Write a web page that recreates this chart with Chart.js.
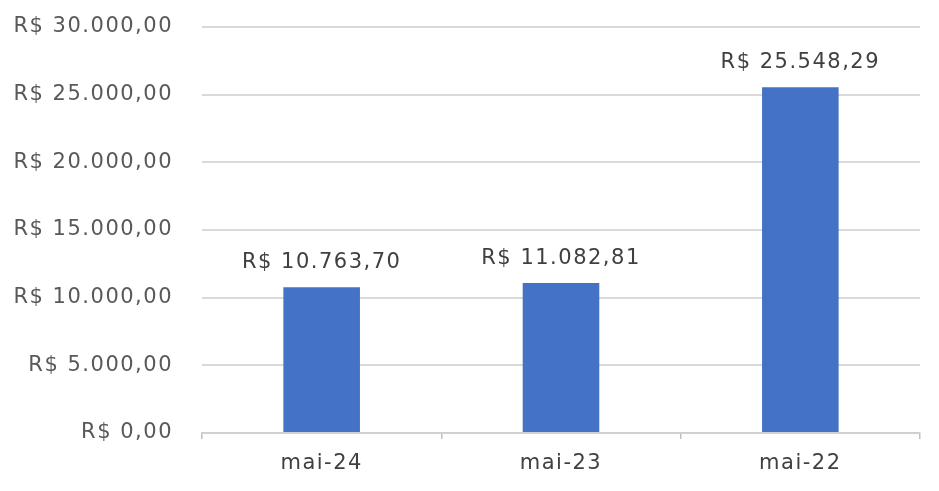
<!DOCTYPE html>
<html>
<head>
<meta charset="utf-8">
<script src="https://cdn.jsdelivr.net/npm/chart.js@4.4.1/dist/chart.umd.min.js"></script>
<style>
  html, body { margin: 0; padding: 0; background: #ffffff; }
  #wrap { width: 939px; height: 491px; }
</style>
</head>
<body>
<div id="wrap"><canvas id="barChart"></canvas></div>
<script>
const categories = ["mai-24", "mai-23", "mai-22"];
const values = [10763.70, 11082.81, 25548.29];
const yMin = 0;
const yMax = 30000;
const yStep = 5000;

function formatBRL(value) {
    return 'R$ ' + value.toLocaleString('pt-BR', { minimumFractionDigits: 2, maximumFractionDigits: 2 });
}

// espaçamento entre letras parecido com o original
const spacing = {
    id: 'spacing',
    beforeUpdate(chart) { chart.ctx.letterSpacing = '1.5px'; },
    beforeDraw(chart) { chart.ctx.letterSpacing = '1.5px'; }
};

// desenha os valores em cima das barras
const valueLabels = {
    id: 'valueLabels',
    afterDatasetsDraw(chart) {
        const ctx = chart.ctx;
        const meta = chart.getDatasetMeta(0);
        ctx.save();
        ctx.font = '21px "DejaVu Sans"';
        ctx.letterSpacing = '1.5px';
        ctx.fillStyle = '#404040';
        ctx.textAlign = 'center';
        ctx.textBaseline = 'bottom';
        meta.data.forEach((bar, i) => {
            ctx.fillText(formatBRL(chart.data.datasets[0].data[i]), bar.x, bar.y - 14);
        });
        ctx.restore();
    }
};

var ctx = document.getElementById("barChart").getContext("2d");
var barChart = new Chart(ctx, {
    type: "bar",
    data: {
        labels: categories,
        datasets: [{
            data: values,
            backgroundColor: "#4472C4",
            borderWidth: 0,
            barPercentage: 0.64,
            categoryPercentage: 0.5
        }]
    },
    plugins: [spacing, valueLabels],
    options: {
        responsive: true,
        maintainAspectRatio: false,
        animation: false,
        devicePixelRatio: 1,
        layout: {
            padding: { top: 27, right: 19, bottom: 0, left: 0 }
        },
        plugins: {
            legend: { display: false },
            tooltip: { enabled: false }
        },
        scales: {
            x: {
                grid: {
                    offset: true,
                    drawOnChartArea: false,
                    drawTicks: true,
                    tickLength: 6,
                    color: '#bfbfbf',
                    lineWidth: 1.5
                },
                border: { display: true, color: '#d0d0d0', width: 2 },
                ticks: {
                    color: '#404040',
                    font: { family: 'DejaVu Sans', size: 21 },
                    padding: 12
                },
                afterFit: function(scale) {
                    scale.height = 58;
                    scale.paddingLeft = 0;
                    scale.paddingRight = 0;
                }
            },
            y: {
                min: yMin,
                max: yMax,
                grid: {
                    color: '#d9d9d9',
                    lineWidth: 2,
                    drawTicks: false
                },
                border: { display: false },
                ticks: {
                    stepSize: yStep,
                    color: '#595959',
                    font: { family: 'DejaVu Sans', size: 21 },
                    padding: 29,
                    callback: function(value) {
                        return formatBRL(value);
                    }
                },
                afterFit: function(scale) {
                    scale.width = 202;
                    scale.paddingTop = 0;
                    scale.paddingBottom = 0;
                }
            }
        }
    }
});
</script>
</body>
</html>
